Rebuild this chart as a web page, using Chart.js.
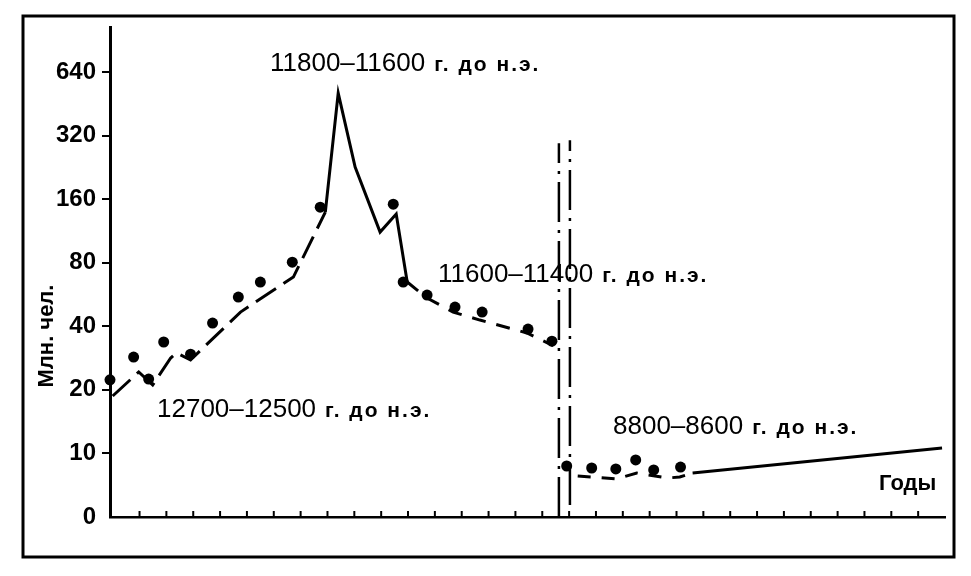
<!DOCTYPE html>
<html>
<head>
<meta charset="utf-8">
<title>Численность населения</title>
<script src="https://cdn.jsdelivr.net/npm/chart.js@4.4.1/dist/chart.umd.min.js"></script>
<style>
  body { margin: 0; background: #fff; }
  canvas { display: block; }
</style>
</head>
<body>
<canvas id="chart" width="971" height="576"></canvas>
<script>
// x — номер деления по оси "Годы", y — млн. чел.

// точки
const dotX = [-0.1, 0.78, 1.34, 1.9, 2.9, 3.72, 4.68, 5.5, 6.69, 7.73, 10.45, 10.82,
  11.71, 12.75, 13.76, 15.47, 16.36, 16.91, 17.84, 18.74, 19.48, 20.15, 21.15];
const dotPop = [22.3, 28.6, 22.5, 33.7, 29.5, 41.4, 55.0, 64.8, 80.5, 146.6, 151.5, 64.8,
  56.2, 49.3, 46.7, 38.8, 34.0, 8.72, 8.53, 8.44, 9.31, 8.35, 8.62];

// линия до разрыва
const lineX = [0, 0.97, 1.49, 2.16, 2.38, 2.9, 4.76, 6.73, 7.92, 8.4, 9.03, 9.96,
  10.56, 10.97, 11.71, 12.68, 13.68, 15.43, 16.36, 16.54];
const linePop = [18.7, 24.3, 21.1, 28.3, 29.9, 27.7, 46.7, 68.4, 138.9, 508, 226.8, 111.7,
  135.9, 64.8, 54.4, 46.7, 42.8, 37.2, 32.6, 35.6];

// линия после разрыва
const lowX = [17.32, 17.84, 18.77, 19.52, 20.67, 21.12, 21.6, 30.89];
const lowPop = [7.82, 7.73, 7.57, 8.08, 7.65, 7.73, 8.08, 10.6];

// вертикальные штрих-пунктирные линии
const breakX = [16.62, 17.03];
const breakTop = [294, 304];
const breakBottom = [5, 5.7];

// ось Y
const yTickValues = [5, 10, 20, 40, 80, 160, 320, 640];
const yTickLabels = ["0", "10", "20", "40", "80", "160", "320", "640"];

// подписи периодов
const periodLabels = ["12700–12500", "11800–11600", "11600–11400", "8800–8600"];
const periodSuffix = "г. до н.э.";

const FONT = "'Liberation Sans', Arial, sans-serif";

const toPoints = (xs, ys) => xs.map((x, i) => ({ x: x, y: ys[i] }));

const breakSets = breakX.map((x, i) => ({
  data: [{ x: x, y: breakBottom[i] }, { x: x, y: breakTop[i] }],
  showLine: true,
  borderColor: "#000",
  borderWidth: 2.5,
  borderDash: [40, 8, 3, 8],
  pointRadius: 0,
  clip: false,
}));

function periodText(ctx, text, x, y) {
  ctx.font = "26px " + FONT;
  ctx.fillText(text, x, y);
  const w = ctx.measureText(text).width;
  ctx.font = "bold 21px " + FONT;
  ctx.letterSpacing = "2px";
  ctx.fillText(periodSuffix, x + w + 9, y);
  ctx.letterSpacing = "0px";
}

const decorPlugin = {
  id: "decor",
  afterDraw(chart) {
    const ctx = chart.ctx;
    const xs = chart.scales.x;
    const area = chart.chartArea;
    ctx.save();
    ctx.strokeStyle = "#000";
    ctx.fillStyle = "#000";

    // рамка
    ctx.lineWidth = 3;
    ctx.strokeRect(23, 16, 931, 541);

    // деления на оси лет
    ctx.lineWidth = 2;
    for (let k = 1; k <= 30; k++) {
      const px = xs.getPixelForValue(k);
      ctx.beginPath();
      ctx.moveTo(px, area.bottom);
      ctx.lineTo(px, area.bottom - 6);
      ctx.stroke();
    }

    // подписи
    ctx.textBaseline = "alphabetic";
    ctx.textAlign = "left";
    periodText(ctx, periodLabels[0], 157, 417);
    periodText(ctx, periodLabels[1], 270, 71);
    periodText(ctx, periodLabels[2], 438, 282);
    periodText(ctx, periodLabels[3], 613, 434);

    ctx.font = "bold 22px " + FONT;
    ctx.fillText("Годы", 879, 490);

    ctx.translate(47, 336);
    ctx.rotate(-Math.PI / 2);
    ctx.textAlign = "center";
    ctx.textBaseline = "middle";
    ctx.font = "bold 22px " + FONT;
    ctx.fillText("Млн. чел.", 0, 0);
    ctx.restore();
  },
};

const ctx = document.getElementById("chart").getContext("2d");
const chart = new Chart(ctx, {
  type: "scatter",
  data: {
    datasets: [
      {
        data: toPoints(lineX, linePop),
        showLine: true,
        borderColor: "#000",
        borderWidth: 3,
        pointRadius: 0,
        clip: false,
        segment: {
          borderDash: (c) =>
            c.p0.parsed.x >= 7.9 && c.p1.parsed.x <= 11
              ? []
              : c.p0.parsed.x < 7.9
              ? [24, 9]
              : [14, 11],
        },
      },
      {
        data: toPoints(lowX, lowPop),
        showLine: true,
        borderColor: "#000",
        borderWidth: 3,
        pointRadius: 0,
        clip: false,
        segment: {
          borderDash: (c) => (c.p0.parsed.x >= 21.5 ? [] : [13, 11]),
        },
      },
      ...breakSets,
      {
        data: toPoints(dotX, dotPop),
        showLine: false,
        pointRadius: 5.5,
        pointBackgroundColor: "#000",
        pointBorderColor: "#000",
        pointBorderWidth: 0,
        clip: false,
      },
    ],
  },
  options: {
    responsive: false,
    devicePixelRatio: 1,
    animation: false,
    layout: { padding: { top: 27, right: 26, bottom: 0, left: 0 } },
    plugins: {
      legend: { display: false },
      tooltip: { enabled: false },
    },
    scales: {
      x: {
        type: "linear",
        min: -0.1,
        max: 31,
        ticks: { display: false },
        grid: { display: true, drawOnChartArea: false, drawTicks: false },
        border: { color: "#000", width: 2.5 },
        afterFit(scale) {
          scale.height = 59;
        },
      },
      y: {
        type: "logarithmic",
        min: 5,
        max: 1045,
        afterBuildTicks(scale) {
          scale.ticks = yTickValues.map((v) => ({ value: v }));
        },
        ticks: {
          color: "#000",
          padding: 6,
          font: { family: FONT, size: 24, weight: "bold" },
          callback: (value) => yTickLabels[yTickValues.indexOf(value)],
        },
        grid: {
          drawOnChartArea: false,
          drawTicks: true,
          tickLength: 8,
          lineWidth: 2,
          color: (c) => (c.tick && c.tick.value === 5 ? "rgba(0,0,0,0)" : "#000"),
        },
        border: { color: "#000", width: 3 },
        afterFit(scale) {
          scale.width = 110;
        },
      },
    },
  },
  plugins: [decorPlugin],
});
</script>
</body>
</html>
